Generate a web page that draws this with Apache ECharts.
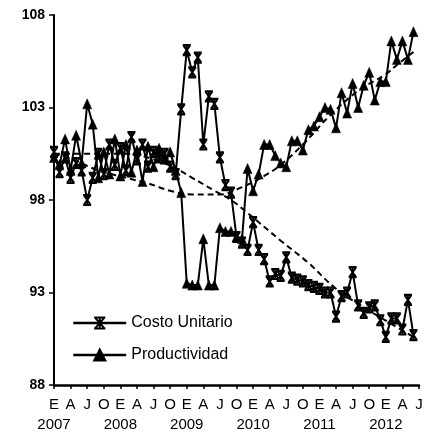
<!DOCTYPE html>
<html>
<head>
<meta charset="utf-8">
<script src="https://cdn.jsdelivr.net/npm/echarts@6/dist/echarts.min.js"></script>
<style>
  html, body { margin: 0; padding: 0; background: #fff; }
  #chart { width: 427px; height: 432px; }
</style>
</head>
<body>
<div id="chart"></div>
<script>
// Months from January 2007 to July 2012 (index 0 = Jan 2007)
const firstYear = 2007;
const monthCount = 67;
const monthLetters = ['E', 'A', 'J', 'O']; // Enero, Abril, Julio, Octubre

// Monthly index values, Jan 2007 - Jun 2012
const costoUnitario = [
  100.6, 99.5, 100.3, 99.2, 100.0, 99.6, 98.0, 99.2, 100.5, 99.4, 101.0, 99.9,
  100.8, 99.6, 101.4, 100.2, 101.0, 99.8, 100.6, 100.3, 100.5, 99.8, 99.4, 102.9,
  106.1, 104.9, 105.7, 101.0, 103.6, 103.2, 100.3, 98.8, 98.4, 96.0, 95.7, 95.3,
  96.8, 95.3, 94.8, 93.6, 94.0, 93.9, 94.9, 93.8, 93.7, 93.6, 93.4, 93.3,
  93.2, 93.0, 93.0, 91.7, 92.8, 93.0, 94.1, 92.3, 91.9, 92.2, 92.3, 91.5,
  90.6, 91.6, 91.6, 91.0, 92.6, 90.7
];
const productividad = [
  100.3, 99.9, 101.3, 99.6, 101.5, 100.0, 103.2, 102.1, 99.2, 100.6, 99.4, 101.3,
  99.3, 101.0, 99.5, 100.7, 99.0, 100.9, 99.8, 100.8, 100.2, 100.6, 99.6, 98.4,
  93.5, 93.4, 93.4, 95.9, 93.4, 93.4, 96.5, 96.3, 96.3, 96.0, 95.9, 99.7,
  98.5, 99.4, 101.0, 101.0, 100.4, 100.0, 99.8, 101.2, 101.2, 100.7, 101.8, 102.0,
  102.5, 103.0, 102.9, 101.9, 103.8, 102.7, 104.3, 103.0, 104.2, 104.9, 103.4, 104.4,
  104.4, 106.6, 105.6, 106.6, 105.6, 107.1
];

// Trend curves, [month index, value]
const tendenciaCosto = [
  [0, 100.5], [7, 100.5], [13, 100.5], [18, 100.2], [22, 99.7], [25, 99.2],
  [29, 98.5], [32, 98.0], [35, 97.3], [41, 95.8], [46, 94.6], [51, 93.2],
  [56, 92.2], [61, 91.3], [65, 90.6]
];
const tendenciaProductividad = [
  [0, 100.5], [4, 100.1], [8, 99.6], [13, 99.2], [17, 98.9], [21, 98.5],
  [25, 98.3], [30, 98.3], [34, 98.7], [38, 99.3], [41, 99.9], [45, 101.0],
  [50, 102.6], [55, 103.9], [60, 104.8], [62, 105.3], [65, 106.0]
];

const yTicks = { min: 88, max: 108, step: 5 };

const months = [];
for (let i = 0; i < monthCount; i++) months.push(i);

// star-like cross marker
const crossMarker = 'path://M0,0 L8,0 M0,10 L8,10 M0.5,0 L7.5,10 M7.5,0 L0.5,10 M4,0 L4,10';

const FONT = '"Liberation Sans", Arial, sans-serif';

const chart = echarts.init(document.getElementById('chart'), null, { renderer: 'canvas' });
chart.setOption({
  animation: false,
  backgroundColor: '#fff',
  grid: { left: 54, right: 8, top: 15, bottom: 47, containLabel: false, outerBoundsMode: 'none' },
  legend: {
    orient: 'vertical',
    left: 72,
    top: 315,
    padding: 0,
    itemWidth: 53,
    itemHeight: 14,
    itemGap: 16,
    data: ['Costo Unitario', 'Productividad'],
    lineStyle: { width: 2.5 },
    textStyle: { fontFamily: FONT, fontSize: 16, lineHeight: 16, color: '#000' }
  },
  xAxis: [
    {
      // month letters
      type: 'category',
      data: months,
      boundaryGap: false,
      axisLine: { lineStyle: { color: '#000', width: 2.5 } },
      axisTick: { interval: 2, length: 4, lineStyle: { color: '#000', width: 1.5 } },
      axisLabel: {
        interval: 2,
        showMinLabel: true,
        showMaxLabel: true,
        hideOverlap: false,
        margin: 12,
        color: '#000',
        fontFamily: FONT,
        fontSize: 15,
        formatter: function (v) {
          const m = Number(v);
          return monthLetters[(m % 12) / 3];
        }
      },
      splitLine: { show: false }
    },
    {
      // year row under each January, on a month-index scale
      type: 'value',
      min: 0,
      max: monthCount - 1,
      interval: 12,
      position: 'bottom',
      axisLine: { show: false },
      axisTick: { show: false },
      splitLine: { show: false },
      axisLabel: {
        showMinLabel: true,
        showMaxLabel: false,
        margin: 32,
        color: '#000',
        fontFamily: FONT,
        fontSize: 15,
        formatter: function (v) {
          return v % 12 === 0 ? String(firstYear + v / 12) : '';
        }
      }
    }
  ],
  yAxis: {
    type: 'value',
    min: yTicks.min,
    max: yTicks.max,
    interval: yTicks.step,
    axisLine: { show: true, lineStyle: { color: '#000', width: 2 } },
    axisTick: { show: true, length: 5, lineStyle: { color: '#000', width: 1.5 } },
    axisLabel: { margin: 9, color: '#000', fontFamily: FONT, fontSize: 14, fontWeight: 'bold' },
    splitLine: { show: false }
  },
  series: [
    {
      name: 'Costo Unitario',
      type: 'line',
      data: costoUnitario,
      symbol: crossMarker,
      symbolSize: [8, 10],
      showAllSymbol: true,
      lineStyle: { color: '#000', width: 2 },
      itemStyle: { color: '#000', borderColor: '#000', borderWidth: 2 },
      z: 3
    },
    {
      name: 'Productividad',
      type: 'line',
      data: productividad,
      symbol: 'triangle',
      symbolSize: [9, 10],
      showAllSymbol: true,
      lineStyle: { color: '#000', width: 2 },
      itemStyle: { color: '#000', borderColor: '#000', borderWidth: 0.5 },
      z: 3
    },
    {
      name: 'tendencia costo',
      type: 'line',
      data: tendenciaCosto,
      smooth: 0.4,
      symbol: 'none',
      silent: true,
      lineStyle: { color: '#000', width: 2, type: [6, 4] },
      z: 2
    },
    {
      name: 'tendencia productividad',
      type: 'line',
      data: tendenciaProductividad,
      smooth: 0.4,
      symbol: 'none',
      silent: true,
      lineStyle: { color: '#000', width: 2, type: [6, 4] },
      z: 2
    }
  ]
});
</script>
</body>
</html>
